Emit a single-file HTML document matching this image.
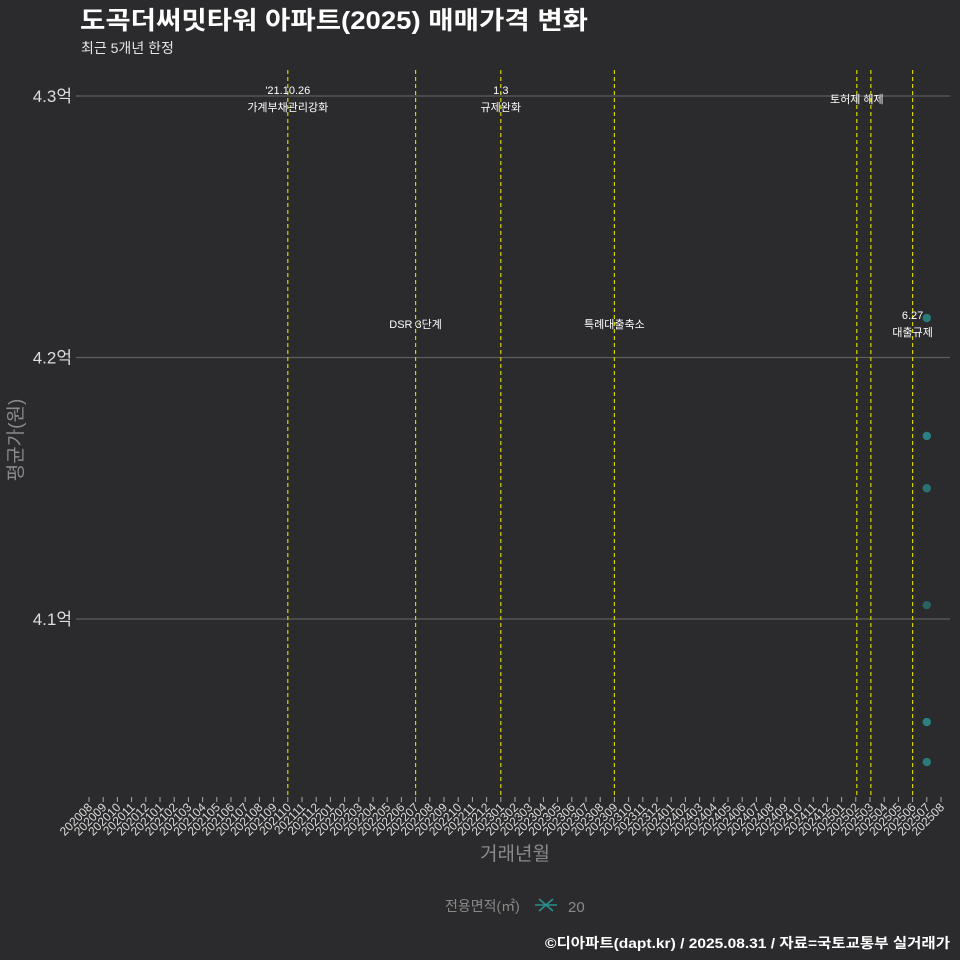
<!DOCTYPE html>
<html><head><meta charset="utf-8">
<style>
html,body{margin:0;padding:0;background:#2b2a2c;overflow:hidden;width:960px;height:960px;}
svg{display:block;}
svg text{font-family:"Liberation Sans","Noto Sans CJK KR",sans-serif;}
</style></head>
<body>
<svg id="chart" width="960" height="960" viewBox="0 0 960 960" xmlns="http://www.w3.org/2000/svg">
<rect width="960" height="960" fill="#2b2a2c"/>
<text x="80" y="29" font-size="25" font-weight="bold" fill="#ffffff" textLength="508" lengthAdjust="spacingAndGlyphs">도곡더써밋타워 아파트(2025) 매매가격 변화</text>
<text x="81" y="53" font-size="14" fill="#e6e6e6">최근 5개년 한정</text>
<g id="grid"></g>
<g id="events"></g>
<g id="xaxis"></g>
<g id="points"></g>
<text transform="translate(22,440) rotate(-90)" text-anchor="middle" font-size="19" fill="#8a8a8a">평균가(원)</text>
<text x="515" y="860" text-anchor="middle" font-size="19" fill="#8a8a8a">거래년월</text>
<g>
<text x="445" y="911" font-size="14" fill="#8a8a8a">전용면적(㎡)</text>
<g stroke="#2a9090" stroke-width="1.6">
<line x1="535" y1="905" x2="557" y2="905"/><line x1="539" y1="899" x2="553" y2="911"/><line x1="539" y1="911" x2="553" y2="899"/>
</g>
<text x="568" y="912" font-size="15" fill="#8a8a8a">20</text>
</g>
<text x="950" y="948" text-anchor="end" font-size="14" font-weight="bold" fill="#ffffff" textLength="405" lengthAdjust="spacingAndGlyphs">©디아파트(dapt.kr) / 2025.08.31 / 자료=국토교통부 실거래가</text>
</svg>
<script>
const months = [];
for (let y = 2020; y <= 2025; y++) for (let m = 1; m <= 12; m++) {
  const k = y * 100 + m; if (k >= 202008 && k <= 202508) months.push(String(k));
}
const yTicks = [4.1, 4.2, 4.3];
const yTickLabels = ['4.1억', '4.2억', '4.3억'];
const pointMonths = ['202507','202507','202507','202507','202507','202507'];
const pointValues = [4.2151, 4.170, 4.150, 4.1053, 4.0606, 4.0453];
const pointOpacity = [0.8, 0.85, 0.7, 0.55, 0.85, 0.8];
const eventPos = [14, 23, 29, 37, 54.07, 55.06, 58];
const eventLine1 = ["'21.10.26", '', '1.3', '', '', '', '6.27'];
const eventLine2 = ['가계부채관리강화', 'DSR 3단계', '규제완화', '특례대출축소', '토허제 해제', '', '대출규제'];
const eventLabelY = [94, 328, 94, 328, 103, 0, 319];

const NS = 'http://www.w3.org/2000/svg';
const x = i => 89 + i * 14.2;
const y = v => 96 + (4.3 - v) * 2615;
function mk(tag, attrs, parent, txt) {
  const e = document.createElementNS(NS, tag);
  for (const k in attrs) e.setAttribute(k, attrs[k]);
  if (txt !== undefined) e.textContent = txt;
  document.getElementById(parent).appendChild(e);
  return e;
}
yTicks.forEach((v, i) => {
  const l = mk('line', {x1: 76, x2: 950, y1: y(v), y2: y(v), stroke: '#5e5e5e', 'stroke-width': 1.2}, 'grid');
  
  
  const t = mk('text', {x: 72, y: y(v) + 6, 'text-anchor': 'end', 'font-size': 17, fill: '#dddddd'}, 'grid', yTickLabels[i]);
  
  
});
months.forEach((m, i) => {
  const tk = mk('line', {x1: x(i), x2: x(i), y1: 797, y2: 802, stroke: '#aaaaaa', 'stroke-width': 1}, 'xaxis');
  
  
  const t = mk('text', {x: x(i) + 4, y: 808, 'text-anchor': 'end', 'font-size': 12, fill: '#dddddd', transform: `rotate(-45 ${x(i) + 4} 808)`}, 'xaxis', m);
  
  
});
eventPos.forEach((p, i) => {
  const l = mk('line', {x1: x(p), x2: x(p), y1: 70, y2: 797, stroke: '#d4d400', 'stroke-width': 1.2, 'stroke-dasharray': '4 3'}, 'events');
  
  
  if (eventLine1[i]) {
    const t = mk('text', {x: x(p), y: eventLabelY[i], 'text-anchor': 'middle', 'font-size': 11, fill: '#ffffff'}, 'events', eventLine1[i]);
    
    
  }
  if (eventLine2[i]) {
    const yy = eventLine1[i] ? eventLabelY[i] + 17 : eventLabelY[i];
    const t = mk('text', {x: x(p), y: yy, 'text-anchor': 'middle', 'font-size': 11, fill: '#ffffff'}, 'events', eventLine2[i]);
    
    
  }
});
pointValues.forEach((v, i) => {
  const c = mk('circle', {cx: x(months.indexOf(pointMonths[i])), cy: y(v), r: 4.2, fill: '#2a9090', 'fill-opacity': pointOpacity[i]}, 'points');
  
  
});
</script>
</body></html>
